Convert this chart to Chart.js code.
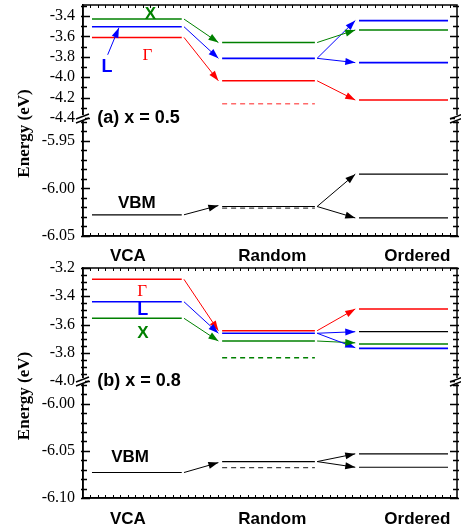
<!DOCTYPE html>
<html>
<head>
<meta charset="utf-8">
<script src="https://cdn.jsdelivr.net/npm/chart.js@4.4.1/dist/chart.umd.min.js"></script>
<style>
  html, body { margin: 0; padding: 0; background: #fff; }
  #wrap { position: relative; width: 461px; height: 531px; }
  canvas { position: absolute; left: 0; }
</style>
</head>
<body>
<div id="wrap">
  <canvas id="chartA" width="461" height="265" style="top:0px"></canvas>
  <canvas id="chartB" width="461" height="276" style="top:255px"></canvas>
</div>
<script>
const categories = ["VCA", "Random", "Ordered"];
const categoryX = [0.6, 2.53, 4.47];
const columnSpans = [[0.12, 1.32], [1.86, 3.1], [3.69, 4.88]];

const colours = { G: "#ff0000", L: "#0000ff", X: "#008000", V: "#000000" };
const dashColours = { G: "#ff6a6a", L: "#0000ff", X: "#008000", V: "#444444" };

// panel (a) x = 0.5 : [column, energy (eV), band, dashed]
const levelsA = [
  [0, -3.43, "X"], [0, -3.505, "L"], [0, -3.61, "G"],
  [1, -3.66, "X"], [1, -3.815, "L"], [1, -4.035, "G"], [1, -4.26, "G", true],
  [2, -3.445, "L"], [2, -3.537, "X"], [2, -3.857, "L"], [2, -4.224, "G"],
  [0, -6.0277, "V"], [1, -6.019, "V"], [1, -6.0207, "V", true],
  [2, -5.985, "V"], [2, -6.031, "V"]
];
// [from column, from energy, to column, to energy, band]
const arrowsA = [
  [0, -3.43, 1, -3.66, "X"], [0, -3.505, 1, -3.815, "L"], [0, -3.61, 1, -4.035, "G"],
  [1, -3.66, 2, -3.537, "X"], [1, -3.815, 2, -3.445, "L"], [1, -3.815, 2, -3.857, "L"],
  [1, -4.035, 2, -4.224, "G"],
  [0, -6.0277, 1, -6.018, "V"], [1, -6.019, 2, -5.985, "V"], [1, -6.019, 2, -6.031, "V"]
];
// [text, x, energy, band]
const labelsA = [["X", 0.9, -3.38, "X"], ["\u0393", 0.86, -3.79, "G"], ["L", 0.32, -3.9, "L"], ["VBM", 0.72, -6.0158, "V"]];
const pointerA = [0.33, -3.78, 0.48, -3.515];

// panel (b) x = 0.8
const levelsB = [
  [0, -3.28, "G"], [0, -3.439, "L"], [0, -3.556, "X"],
  [1, -3.644, "G"], [1, -3.662, "L"], [1, -3.717, "X"], [1, -3.835, "X", true],
  [2, -3.49, "G"], [2, -3.651, "V"], [2, -3.738, "X"], [2, -3.769, "L"],
  [0, -6.073, "V"], [1, -6.0614, "V"], [1, -6.0678, "V", true],
  [2, -6.0532, "V"], [2, -6.0674, "V"]
];
const arrowsB = [
  [0, -3.28, 1, -3.644, "G"], [0, -3.439, 1, -3.662, "L"], [0, -3.556, 1, -3.717, "X"],
  [1, -3.644, 2, -3.49, "G"], [1, -3.662, 2, -3.651, "L"], [1, -3.662, 2, -3.764, "L"],
  [1, -3.717, 2, -3.73, "X"],
  [0, -6.073, 1, -6.0625, "V"], [1, -6.0614, 2, -6.0532, "V"], [1, -6.0614, 2, -6.0674, "V"]
];
const labelsB = [["\u0393", 0.79, -3.37, "G"], ["L", 0.8, -3.497, "L"], ["X", 0.8, -3.66, "X"], ["VBM", 0.63, -6.057, "V"]];

const fontFor = {
  G: "17px 'Liberation Serif'",
  L: "bold 18px 'Liberation Sans'",
  X: "bold 17px 'Liberation Sans'",
  V: "bold 17px 'Liberation Sans'"
};

function axisFor(e) { return e > -5 ? "yUp" : "yLow"; }

function stepValues(min, max, step) {
  const out = [];
  const k0 = Math.ceil(min / step - 1e-6);
  const k1 = Math.floor(max / step + 1e-6);
  for (let k = k0; k <= k1; k++) out.push(k * step);
  return out;
}

function buildDatasets(levels, arrows) {
  const sets = levels.map(([col, e, band, dashed]) => ({
    data: [{ x: columnSpans[col][0], y: e }, { x: columnSpans[col][1], y: e }],
    yAxisID: axisFor(e),
    borderColor: dashed ? dashColours[band] : colours[band],
    borderWidth: band === "V" ? 1.2 : 1.6,
    borderDash: dashed ? [5, 4] : []
  }));
  arrows.forEach(([c0, e0, c1, e1, band]) => {
    sets.push({
      data: [{ x: columnSpans[c0][1] + 0.03, y: e0 }, { x: columnSpans[c1][0] - 0.05, y: e1 }],
      yAxisID: axisFor(e0),
      borderColor: colours[band],
      borderWidth: 1,
      arrow: true
    });
  });
  return sets;
}

function drawHead(ctx, x0, y0, x1, y1, colour) {
  const ang = Math.atan2(y1 - y0, x1 - x0);
  ctx.save();
  ctx.fillStyle = colour;
  ctx.translate(x1, y1);
  ctx.rotate(ang);
  ctx.beginPath();
  ctx.moveTo(0, 0);
  ctx.lineTo(-10, -3.5);
  ctx.lineTo(-10, 3.5);
  ctx.closePath();
  ctx.fill();
  ctx.restore();
}

function makePanel(canvasId, cfg) {
  const plugin = {
    id: "levelPlot",
    afterDatasetsDraw(chart) {
      const ctx = chart.ctx;
      chart.data.datasets.forEach((ds, i) => {
        if (!ds.arrow) return;
        const pts = chart.getDatasetMeta(i).data;
        drawHead(ctx, pts[0].x, pts[0].y, pts[1].x, pts[1].y, ds.borderColor);
      });
    },
    afterDraw(chart) {
      const ctx = chart.ctx;
      const area = chart.chartArea;
      const xs = chart.scales.x;
      const up = chart.scales.yUp;
      const low = chart.scales.yLow;
      ctx.save();
      ctx.strokeStyle = "#000";
      ctx.lineWidth = 1.5;
      ctx.strokeRect(area.left, area.top, area.right - area.left, area.bottom - area.top);

      // inward tick marks, left and right
      ctx.lineWidth = 1.3;
      [[up, cfg.up], [low, cfg.low]].forEach(([s, t]) => {
        stepValues(s.min, s.max, t.minor).forEach(v => {
          const r = v / t.step;
          const len = Math.abs(r - Math.round(r)) < 1e-6 ? 7 : 4;
          const py = Math.round(s.getPixelForValue(v)) + 0.5;
          ctx.beginPath();
          ctx.moveTo(area.left - 2, py); ctx.lineTo(area.left + len, py);
          ctx.moveTo(area.right + 2, py); ctx.lineTo(area.right - len, py);
          ctx.stroke();
        });
      });
      // top and bottom minor ticks
      ctx.lineWidth = 1;
      for (let k = 1; k < 50; k++) {
        const px = Math.round(xs.getPixelForValue(k * 0.1)) + 0.5;
        ctx.beginPath();
        ctx.moveTo(px, area.top); ctx.lineTo(px, area.top + 3);
        ctx.moveTo(px, area.bottom); ctx.lineTo(px, area.bottom - 3);
        ctx.stroke();
      }

      // axis breaks
      const by = up.bottom;
      [area.left, area.right].forEach(bx => {
        ctx.fillStyle = "#fff";
        ctx.fillRect(bx - 2, by - 3, 4, 6);
        ctx.strokeStyle = "#000";
        ctx.lineWidth = 1.4;
        ctx.beginPath();
        ctx.moveTo(bx - 7, by + 1); ctx.lineTo(bx + 6, by - 4);
        ctx.moveTo(bx - 7, by + 5); ctx.lineTo(bx + 6, by);
        ctx.stroke();
      });

      // level labels
      ctx.textAlign = "center";
      ctx.textBaseline = "middle";
      cfg.labels.forEach(([text, x, e, band]) => {
        const s = e > -5 ? up : low;
        ctx.font = fontFor[band];
        ctx.fillStyle = colours[band];
        ctx.fillText(text, xs.getPixelForValue(x), s.getPixelForValue(e));
      });

      // pointer from "L" to its level
      if (cfg.pointer) {
        const [x0, e0, x1, e1] = cfg.pointer;
        const p0 = [xs.getPixelForValue(x0), up.getPixelForValue(e0)];
        const p1 = [xs.getPixelForValue(x1), up.getPixelForValue(e1)];
        ctx.strokeStyle = colours.L;
        ctx.lineWidth = 1;
        ctx.beginPath();
        ctx.moveTo(p0[0], p0[1]); ctx.lineTo(p1[0], p1[1]);
        ctx.stroke();
        drawHead(ctx, p0[0], p0[1], p1[0], p1[1], colours.L);
      }

      // panel tag
      ctx.textAlign = "left";
      ctx.font = "bold 18px 'Liberation Sans'";
      ctx.fillStyle = "#000";
      ctx.fillText(cfg.tag, xs.getPixelForValue(0.19), up.getPixelForValue(cfg.up.min));

      // y title
      ctx.translate(25, (area.top + area.bottom) / 2 + 13);
      ctx.rotate(-Math.PI / 2);
      ctx.textAlign = "center";
      ctx.font = "bold 17px 'Liberation Serif'";
      ctx.fillText("Energy (eV)", 0, 0);
      ctx.restore();
    }
  };

  const yScale = (t, weight, digits) => ({
    type: "linear",
    position: "left",
    stack: "energy",
    stackWeight: t.weight,
    weight: weight,
    min: t.min,
    max: t.max,
    afterBuildTicks: s => { s.ticks = stepValues(t.min, t.max, t.step).map(v => ({ value: v })); },
    ticks: {
      autoSkip: false,
      callback: v => v.toFixed(digits),
      font: { family: "'Liberation Serif'", size: 16 },
      color: "#000",
      padding: 8
    },
    grid: { display: false, drawTicks: false },
    border: { display: true, color: "#000", width: 1.5 },
    afterFit: s => { s.width = 83; s.paddingTop = 0; s.paddingBottom = 0; }
  });

  return new Chart(document.getElementById(canvasId), {
    type: "scatter",
    data: { datasets: buildDatasets(cfg.levels, cfg.arrows) },
    options: {
      responsive: false,
      animation: false,
      devicePixelRatio: 1,
      layout: { padding: { top: cfg.top, right: 4, left: 0, bottom: 0 } },
      datasets: { scatter: { showLine: true, pointRadius: 0, fill: false, tension: 0 } },
      plugins: { legend: { display: false }, tooltip: { enabled: false } },
      scales: {
        x: {
          type: "linear",
          min: 0,
          max: 5,
          afterBuildTicks: s => { s.ticks = categoryX.map(v => ({ value: v })); },
          ticks: {
            autoSkip: false,
            maxRotation: 0,
            callback: (v, i) => categories[i],
            font: { family: "'Liberation Sans'", size: 17, weight: "bold" },
            color: "#000",
            padding: cfg.xPad
          },
          grid: { display: false, drawTicks: false },
          border: { display: true, color: "#000", width: 1.5 },
          afterFit: s => { s.height = cfg.xHeight; s.paddingLeft = 0; s.paddingRight = 0; }
        },
        yUp: yScale(cfg.up, 2, 1),
        yLow: yScale(cfg.low, 1, 2)
      }
    },
    plugins: [plugin]
  });
}

makePanel("chartA", {
  levels: levelsA, arrows: arrowsA, labels: labelsA, pointer: pointerA,
  tag: "(a) x = 0.5",
  up: { min: -4.4, max: -3.292, step: 0.2, minor: 0.1, weight: 113 },
  low: { min: -6.05, max: -5.926, step: 0.05, minor: 0.01, weight: 118 },
  top: 5, xHeight: 29, xPad: 10
});

makePanel("chartB", {
  levels: levelsB, arrows: arrowsB, labels: labelsB, pointer: null,
  tag: "(b) x = 0.8",
  up: { min: -4.0, max: -3.2, step: 0.2, minor: 0.05, weight: 113 },
  low: { min: -6.1, max: -5.976, step: 0.05, minor: 0.01, weight: 117 },
  top: 13, xHeight: 33, xPad: 11
});
</script>
</body>
</html>
